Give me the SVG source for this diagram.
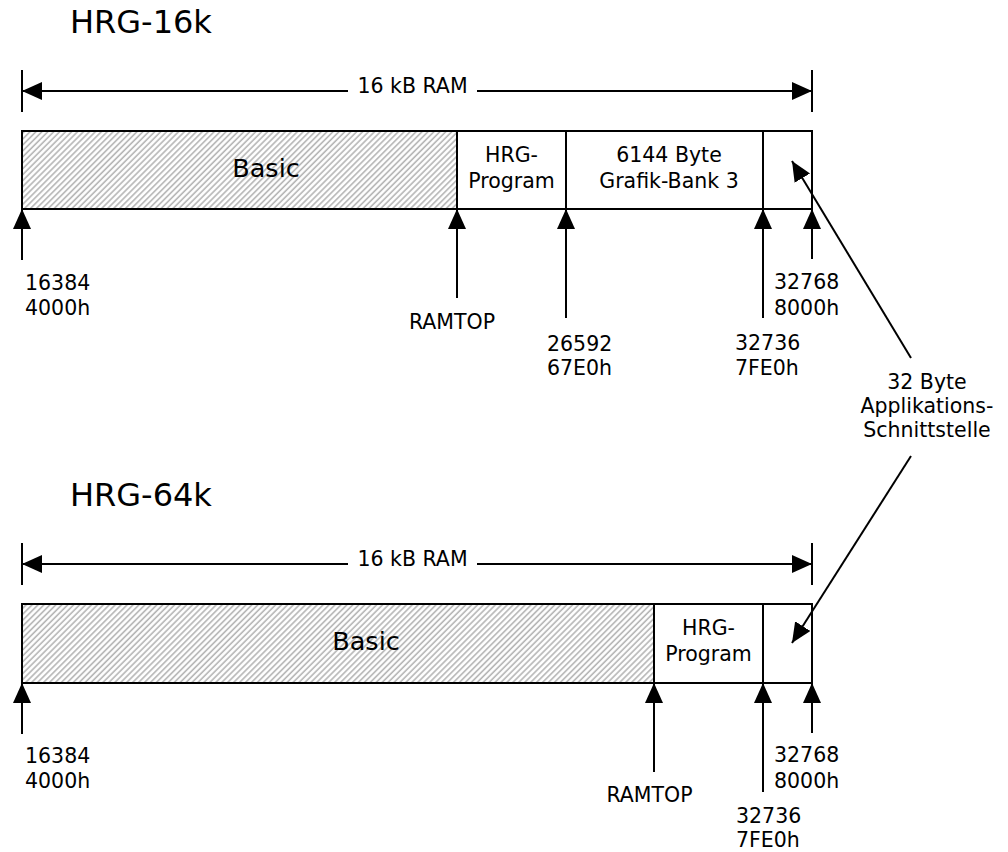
<svg xmlns="http://www.w3.org/2000/svg" width="1008" height="852" viewBox="0 0 1008 852">
  <defs>
    <style>
      text { font-family: "DejaVu Sans", Verdana, sans-serif; fill: #000; }
      .title { font-size: 32px; }
      .lbl { font-size: 20.5px; }
      .big { font-size: 25.5px; }
      .mid { text-anchor: middle; }
      .box { fill: #fff; stroke: #000; stroke-width: 2; }
      .hatch { fill: url(#hatch); stroke: #000; stroke-width: 2; }
      .ln { stroke: #000; stroke-width: 2; fill: none; }
      .arr { stroke: #000; stroke-width: 2; fill: none; marker-end: url(#ah); }
    </style>
    <pattern id="hatch" patternUnits="userSpaceOnUse" width="4.2" height="4.2" patternTransform="rotate(45)">
      <rect width="4.2" height="4.2" fill="#fff"/>
      <line x1="1" y1="0" x2="1" y2="4.2" stroke="#b4b4b4" stroke-width="1.6"/>
    </pattern>
    <marker id="ah" markerUnits="userSpaceOnUse" markerWidth="22" markerHeight="20" refX="20" refY="9" orient="auto">
      <path d="M0,0 L20,9 L0,18 z" fill="#000"/>
    </marker>
  </defs>

  <!-- HRG-16k section -->
  <g id="title16k"><text class="title" x="70" y="33">HRG-16k</text></g>

  <g id="dim16k">
    <line class="ln" x1="22" y1="70" x2="22" y2="112"/>
    <line class="ln" x1="812" y1="70" x2="812" y2="112"/>
    <text class="lbl mid" x="412.5" y="93">16 kB RAM</text>
  </g>

  <g id="basic16k">
    <rect class="hatch" x="22" y="131" width="435" height="78"/>
    <text class="big mid" x="266" y="177">Basic</text>
  </g>
  <g id="hrgprog16k">
    <rect class="box" x="457" y="131" width="109" height="78"/>
    <text class="lbl mid" x="511.5" y="162">HRG-</text>
    <text class="lbl mid" x="511.5" y="188">Program</text>
  </g>
  <g id="grafikbank16k">
    <rect class="box" x="566" y="131" width="197" height="78"/>
    <text class="lbl mid" x="669" y="162">6144 Byte</text>
    <text class="lbl mid" x="669" y="188">Grafik-Bank 3</text>
  </g>
  <g id="api16k">
    <rect class="box" x="763" y="131" width="49" height="78"/>
  </g>

  <g id="labels16k">
    <text class="lbl" x="25" y="290">16384</text>
    <text class="lbl" x="25" y="315">4000h</text>
    <text class="lbl mid" x="452" y="329">RAMTOP</text>
    <text class="lbl" x="547" y="351">26592</text>
    <text class="lbl" x="547" y="375">67E0h</text>
    <text class="lbl" x="735" y="350">32736</text>
    <text class="lbl" x="735" y="375">7FE0h</text>
    <text class="lbl" x="774" y="289">32768</text>
    <text class="lbl" x="774" y="315">8000h</text>
  </g>

  <!-- shared label -->
  <g id="apilabel">
    <text class="lbl mid" x="927" y="389">32 Byte</text>
    <text class="lbl mid" x="927" y="413">Applikations-</text>
    <text class="lbl mid" x="927" y="437">Schnittstelle</text>
  </g>

  <!-- HRG-64k section -->
  <g id="title64k"><text class="title" x="70" y="506">HRG-64k</text></g>

  <g id="dim64k">
    <line class="ln" x1="22" y1="543" x2="22" y2="585"/>
    <line class="ln" x1="812" y1="543" x2="812" y2="585"/>
    <text class="lbl mid" x="412.5" y="566">16 kB RAM</text>
  </g>

  <g id="basic64k">
    <rect class="hatch" x="22" y="604" width="632" height="79"/>
    <text class="big mid" x="366" y="650">Basic</text>
  </g>
  <g id="hrgprog64k">
    <rect class="box" x="654" y="604" width="109" height="79"/>
    <text class="lbl mid" x="708.5" y="635">HRG-</text>
    <text class="lbl mid" x="708.5" y="661">Program</text>
  </g>
  <g id="api64k">
    <rect class="box" x="763" y="604" width="49" height="79"/>
  </g>

  <g id="labels64k">
    <text class="lbl" x="25" y="763">16384</text>
    <text class="lbl" x="25" y="788">4000h</text>
    <text class="lbl mid" x="649.5" y="802">RAMTOP</text>
    <text class="lbl" x="736" y="823">32736</text>
    <text class="lbl" x="736" y="847">7FE0h</text>
    <text class="lbl" x="774" y="762">32768</text>
    <text class="lbl" x="774" y="788">8000h</text>
  </g>

  <g id="connectors">
    <!-- dimension arrows -->
    <line class="arr" x1="348" y1="91" x2="22" y2="91"/>
    <line class="arr" x1="477" y1="91" x2="812" y2="91"/>
    <line class="arr" x1="348" y1="564" x2="22" y2="564"/>
    <line class="arr" x1="477" y1="564" x2="812" y2="564"/>
    <!-- address pointers 16k -->
    <line class="arr" x1="22" y1="260" x2="22" y2="209"/>
    <line class="arr" x1="457" y1="298" x2="457" y2="209"/>
    <line class="arr" x1="566" y1="318" x2="566" y2="209"/>
    <line class="arr" x1="763" y1="318" x2="763" y2="209"/>
    <line class="arr" x1="812" y1="259" x2="812" y2="209"/>
    <!-- address pointers 64k -->
    <line class="arr" x1="22" y1="734" x2="22" y2="683"/>
    <line class="arr" x1="654" y1="772" x2="654" y2="683"/>
    <line class="arr" x1="763" y1="792" x2="763" y2="683"/>
    <line class="arr" x1="812" y1="733" x2="812" y2="683"/>
    <!-- API pointers -->
    <line class="arr" x1="911" y1="358" x2="792" y2="161"/>
    <line class="arr" x1="911" y1="456" x2="792" y2="643"/>
  </g>
</svg>
